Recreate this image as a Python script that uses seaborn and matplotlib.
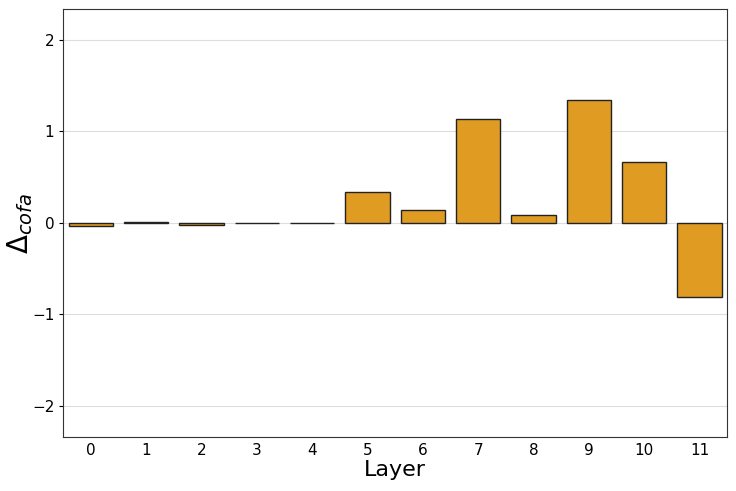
import numpy as np
import pandas as pd
import matplotlib
matplotlib.use('Agg')
import matplotlib.pyplot as plt
import seaborn as sns

# per-layer delta values
layers = [0, 1, 2, 3, 4, 5, 6, 7, 8, 9, 10, 11]
delta_cofa = [-0.03, 0.006, -0.02, 0.004, -0.006, 0.34, 0.14, 1.14, 0.09, 1.34, 0.67, -0.81]

df = pd.DataFrame({'Layer': layers, 'delta': delta_cofa})

sns.set_theme(style='whitegrid')
plt.rcParams['font.family'] = ['DejaVu Sans']

fig, ax = plt.subplots(figsize=(7.36, 4.91), dpi=100)
sns.barplot(data=df, x='Layer', y='delta', color='#e09c22', saturation=1,
            edgecolor='#222222', linewidth=1, ax=ax)

ax.set_ylim(-2.34, 2.34)
ax.set_yticks([-2, -1, 0, 1, 2])
ax.grid(axis='x', visible=False)
ax.grid(axis='y', color='#dddddd', linewidth=0.8)
for s in ax.spines.values():
    s.set_color('#333333')
    s.set_linewidth(0.8)
ax.tick_params(axis='both', labelsize=11, colors='black')
ax.tick_params(axis='x', pad=4, length=0)
ax.tick_params(axis='y', left=True, length=3, width=0.8)
ax.set_xlabel('Layer', fontsize=16, color='black')
ax.set_ylabel(r'$\Delta_{cofa}$', fontsize=20, color='black')
ax.xaxis.set_label_coords(0.5, -0.053)
ax.yaxis.set_label_coords(-0.043, 0.5)

fig.subplots_adjust(left=0.086, right=0.988, top=0.982, bottom=0.11)
fig.savefig('out.png', dpi=100)
